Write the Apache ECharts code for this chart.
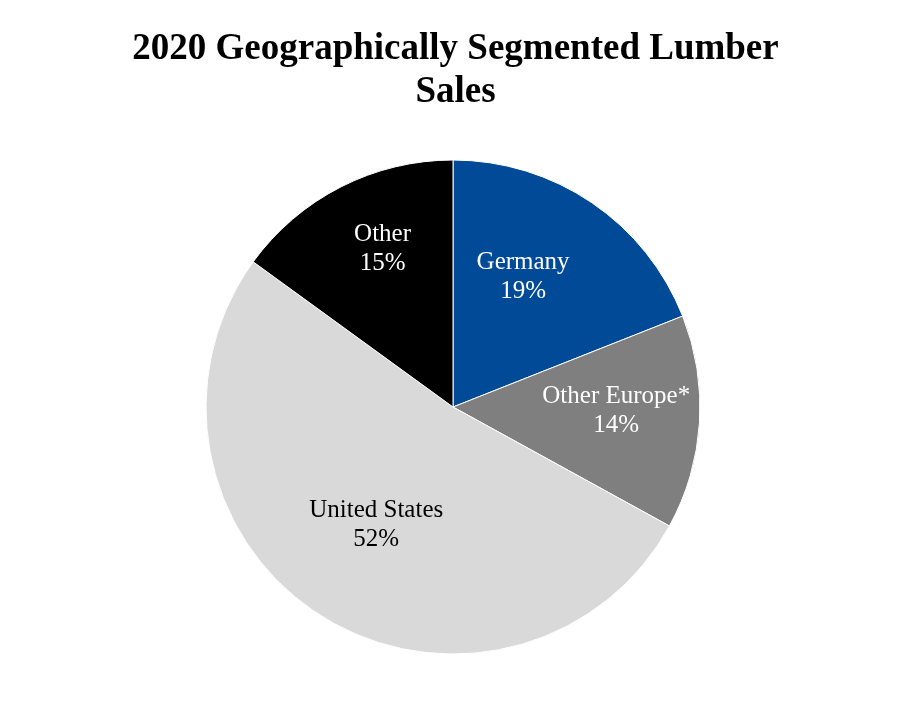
<!DOCTYPE html>
<html>
<head>
<meta charset="utf-8">
<script src="https://cdn.jsdelivr.net/npm/echarts@6/dist/echarts.min.js"></script>
<style>
html,body{margin:0;padding:0;background:#fff;}
#chart{width:911px;height:720px;}
</style>
</head>
<body>
<div id="chart"></div>
<script>
const categories = ['Germany', 'Other Europe*', 'United States', 'Other'];
const shares = [19, 14, 52, 15];
const sliceColors = ['#004A98', '#7F7F7F', '#D9D9D9', '#000000'];
const labelColors = ['#ffffff', '#ffffff', '#000000', '#ffffff'];
const labelShift = [[-1, -25], [37, -4], [-9, 11], [-13, -45]];

const chart = echarts.init(document.getElementById('chart'));
chart.setOption({
  backgroundColor: '#ffffff',
  animation: false,
  title: {
    text: '2020 Geographically Segmented Lumber\nSales',
    left: 'center',
    top: 23,
    textStyle: {
      fontFamily: 'Liberation Serif',
      fontWeight: 'bold',
      fontSize: 37,
      lineHeight: 43,
      color: '#000'
    }
  },
  series: [{
    type: 'pie',
    center: [453, 407],
    radius: [0, 247],
    startAngle: 90,
    clockwise: true,
    avoidLabelOverlap: false,
    itemStyle: { borderColor: '#ffffff', borderWidth: 1 },
    label: {
      show: true,
      position: 'inside',
      fontFamily: 'Liberation Serif',
      fontSize: 25,
      lineHeight: 29,
      formatter: p => p.name + '\n' + p.value + '%'
    },
    labelLayout: function (params) {
      const s = labelShift[params.dataIndex];
      return { dx: s[0], dy: s[1] };
    },
    data: categories.map((c, i) => ({
      name: c,
      value: shares[i],
      itemStyle: { color: sliceColors[i] },
      label: { color: labelColors[i] }
    }))
  }]
});
</script>
</body>
</html>
